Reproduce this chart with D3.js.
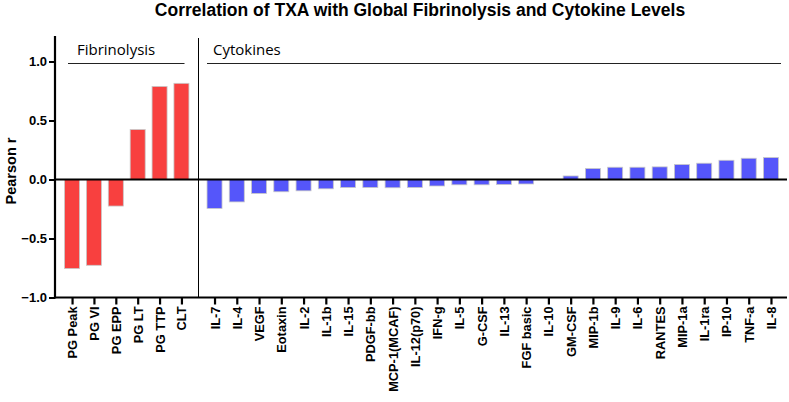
<!DOCTYPE html>
<html><head><meta charset="utf-8">
<script src="https://cdn.jsdelivr.net/npm/d3@7"></script>
<style>body{margin:0;background:#fff}svg{display:block}</style>
</head><body>
<script>
const fibCategories = ["PG Peak","PG VI","PG EPP","PG LT","PG TTP","CLT"];
const fibValues = [-0.755,-0.727,-0.225,0.423,0.789,0.815];
const cytoCategories = ["IL-7","IL-4","VEGF","Eotaxin","IL-2","IL-1b","IL-15","PDGF-bb","MCP-1(MCAF)","IL-12(p70)","IFN-g","IL-5","G-CSF","IL-13","FGF basic","IL-10","GM-CSF","MIP-1b","IL-9","IL-6","RANTES","MIP-1a","IL-1ra","IP-10","TNF-a","IL-8"];
const cytoValues = [-0.245,-0.19,-0.118,-0.104,-0.096,-0.079,-0.068,-0.068,-0.07,-0.068,-0.055,-0.045,-0.045,-0.043,-0.038,0.0,0.03,0.093,0.104,0.104,0.107,0.127,0.138,0.163,0.18,0.186];
const yTicks = [-1.0,-0.5,0.0,0.5,1.0];
const groupLabels = ["Fibrinolysis","Cytokines"];
const title = "Correlation of TXA with Global Fibrinolysis and Cytokine Levels";

const W = 789, H = 402;
const x0 = 55, xDiv = 198.5, xEnd = 787;
const svg = d3.select("body").append("svg").attr("width",W).attr("height",H);

const y = d3.scaleLinear().domain([-1,1]).range([297.5,61.5]);
const xFib = d3.scalePoint().domain(fibCategories).range([x0,xDiv]).padding(0.78);
const xCyto = d3.scalePoint().domain(cytoCategories).range([xDiv,xEnd]).padding(0.72);
const bw = 15;

// title
svg.append("text").attr("x",420).attr("y",16).attr("text-anchor","middle")
  .attr("font-family","Liberation Sans, Arial, sans-serif").attr("font-weight","bold")
  .attr("font-size",17.5).attr("fill","#000").text(title);

// bars
svg.append("g").selectAll("rect").data(fibCategories).join("rect")
  .attr("x",(d)=>xFib(d)-bw/2).attr("width",bw)
  .attr("y",(d,i)=>y(Math.max(0,fibValues[i])))
  .attr("height",(d,i)=>Math.abs(y(fibValues[i])-y(0)))
  .attr("fill","#f8403f").attr("stroke","#c8c8c8").attr("stroke-width",0.8);
svg.append("g").selectAll("rect").data(cytoCategories).join("rect")
  .attr("x",(d)=>xCyto(d)-bw/2).attr("width",bw)
  .attr("y",(d,i)=>y(Math.max(0,cytoValues[i])))
  .attr("height",(d,i)=>Math.abs(y(cytoValues[i])-y(0)))
  .attr("fill","#5556fa").attr("stroke","#c8c8c8").attr("stroke-width",0.8)
  .attr("display",(d,i)=>cytoValues[i]===0?"none":null);

// zero line
svg.append("line").attr("x1",x0).attr("x2",xEnd).attr("y1",y(0)).attr("y2",y(0))
  .attr("stroke","#000").attr("stroke-width",2.2);

// divider
svg.append("line").attr("x1",xDiv).attr("x2",xDiv).attr("y1",38).attr("y2",y(-1))
  .attr("stroke","#000").attr("stroke-width",1);

// group labels
const gl = svg.append("g").attr("font-family","Open Sans, Liberation Sans, sans-serif").attr("font-size",15).attr("fill","#000");
gl.append("text").attr("x",77).attr("y",55).text(groupLabels[0]);
gl.append("text").attr("x",213).attr("y",55).text(groupLabels[1]);
svg.append("line").attr("x1",68).attr("x2",184.5).attr("y1",63.5).attr("y2",63.5).attr("stroke","#222").attr("stroke-width",1.2);
svg.append("line").attr("x1",207).attr("x2",781).attr("y1",63.5).attr("y2",63.5).attr("stroke","#222").attr("stroke-width",1.2);

// y axis
const yAxis = svg.append("g").attr("transform",`translate(${x0},0)`)
  .call(d3.axisLeft(y).tickValues(yTicks).tickFormat(d3.format(".1f")).tickSize(6).tickSizeOuter(0));
yAxis.select(".domain").remove();
yAxis.append("line").attr("x1",0).attr("x2",0).attr("y1",36).attr("y2",y(-1)+1).attr("stroke","#000").attr("stroke-width",2.2);
yAxis.selectAll(".tick line").attr("stroke-width",2);
yAxis.selectAll(".tick text").attr("font-family","Liberation Sans, Arial, sans-serif").attr("font-weight","bold").attr("font-size",13).attr("fill","#000").attr("x",-8);

svg.append("text").attr("transform","translate(16,171) rotate(-90)").attr("text-anchor","middle")
  .attr("font-family","Liberation Sans, Arial, sans-serif").attr("font-weight","bold").attr("font-size",14.5).text("Pearson r");

// x axes
function styleX(g){
  g.select(".domain").remove();
  g.selectAll(".tick line").attr("stroke-width",2.2);
  g.selectAll(".tick text").attr("font-family","Liberation Sans, Arial, sans-serif").attr("font-weight","bold").attr("font-size",12.8).attr("fill","#000")
    .attr("transform","rotate(-90)").attr("text-anchor","end").attr("dx",0).attr("dy","0.35em").attr("x",-9).attr("y",0);
}
const ax1 = svg.append("g").attr("transform",`translate(0,${y(-1)})`).call(d3.axisBottom(xFib).tickSize(7).tickSizeOuter(0));
styleX(ax1);
const ax2 = svg.append("g").attr("transform",`translate(0,${y(-1)})`).call(d3.axisBottom(xCyto).tickSize(7).tickSizeOuter(0));
styleX(ax2);
svg.append("line").attr("x1",x0-1).attr("x2",xEnd).attr("y1",y(-1)).attr("y2",y(-1)).attr("stroke","#000").attr("stroke-width",2.2);
</script>
</body></html>
